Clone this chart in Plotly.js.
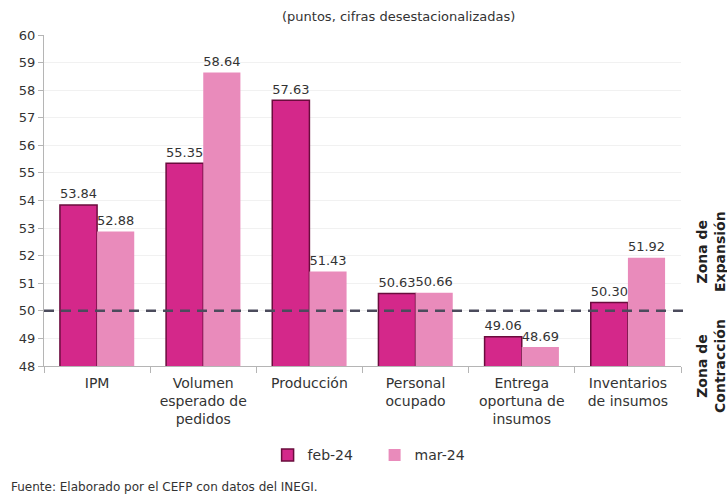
<!DOCTYPE html>
<html>
<head>
<meta charset="utf-8">
<script src="https://cdn.plot.ly/plotly-3.0.1.min.js"></script>
<style>html,body{margin:0;padding:0;background:#fff;}#chart{width:727px;height:497px;}</style>
</head>
<body>
<div id="chart"></div>
<script>
const categories = ["IPM", "Volumen<br>esperado de<br>pedidos", "Producción", "Personal<br>ocupado", "Entrega<br>oportuna de<br>insumos", "Inventarios<br>de insumos"];
const feb24 = [53.84, 55.35, 57.63, 50.63, 49.06, 50.30];
const mar24 = [52.88, 58.64, 51.43, 50.66, 48.69, 51.92];
const seriesNames = ["feb-24", "mar-24"];
const threshold = 50;

const FONT = "DejaVu Sans, sans-serif";
const traces = [
  {type: "bar", name: seriesNames[0], x: categories, y: feb24,
   marker: {color: "#d4288a", line: {color: "#6a0c3d", width: 1.5}},
   text: feb24.map(v => v.toFixed(2)), textposition: "outside", cliponaxis: false,
   textfont: {family: FONT, size: 15, color: "#333"}},
  {type: "bar", name: seriesNames[1], x: categories, y: mar24,
   marker: {color: "#e98bbb", line: {width: 0}},
   text: mar24.map(v => v.toFixed(2)), textposition: "outside", cliponaxis: false,
   textfont: {family: FONT, size: 15, color: "#333"}}
];

const layout = {
  width: 727, height: 497,
  margin: {l: 44, r: 46, t: 35, b: 131},
  paper_bgcolor: "#fff", plot_bgcolor: "#fff",
  font: {family: FONT, color: "#333", size: 13},
  barmode: "group", bargap: 0.3, bargroupgap: 0,
  showlegend: true,
  legend: {orientation: "h", x: 0.519, xanchor: "center", y: -0.27, yanchor: "middle",
           font: {family: FONT, size: 14, color: "#333"}, entrywidth: 62, itemwidth: 30},
  xaxis: {type: "category", showline: true, linecolor: "#b5b5b5", linewidth: 1,
          ticks: "outside", tickson: "boundaries", ticklen: 6, tickcolor: "#b5b5b5",
          ticklabelstandoff: 4,
          tickfont: {family: FONT, size: 14, color: "#333"}, showgrid: false},
  yaxis: {range: [48, 60], dtick: 1, showline: true, linecolor: "#b5b5b5", linewidth: 1,
          ticks: "outside", ticklen: 5, tickcolor: "#b5b5b5",
          showgrid: true, gridcolor: "#f1f1f1", zeroline: false,
          tickfont: {family: FONT, size: 13, color: "#333"}},
  shapes: [{type: "line", xref: "paper", yref: "y", x0: 0, x1: 1.014, y0: threshold, y1: threshold,
            line: {color: "#4b4b5c", width: 2.5, dash: "10px,7px"}}],
  annotations: [
    {text: "(puntos, cifras desestacionalizadas)", xref: "paper", yref: "paper", x: 0.556, y: 1.055,
     yanchor: "middle", showarrow: false, font: {family: FONT, size: 13, color: "#333"}},
    {text: "<b>Zona de<br>Expansión</b>", xref: "paper", yref: "paper", x: 1.047, y: 0.347, textangle: -90,
     showarrow: false, xanchor: "center", yanchor: "middle", font: {family: FONT, size: 14, color: "#222"}},
    {text: "<b>Zona de<br>Contracción</b>", xref: "paper", yref: "paper", x: 1.047, y: 0.0, textangle: -90,
     showarrow: false, xanchor: "center", yanchor: "middle", font: {family: FONT, size: 14, color: "#222"}},
    {text: "Fuente: Elaborado por el CEFP con datos del INEGI.", xref: "paper", yref: "paper",
     x: -0.055, y: -0.365, xanchor: "left", yanchor: "middle", showarrow: false,
     font: {family: FONT, size: 12, color: "#333"}}
  ]
};

Plotly.newPlot("chart", traces, layout, {displayModeBar: false, staticPlot: true});
</script>
</body>
</html>
